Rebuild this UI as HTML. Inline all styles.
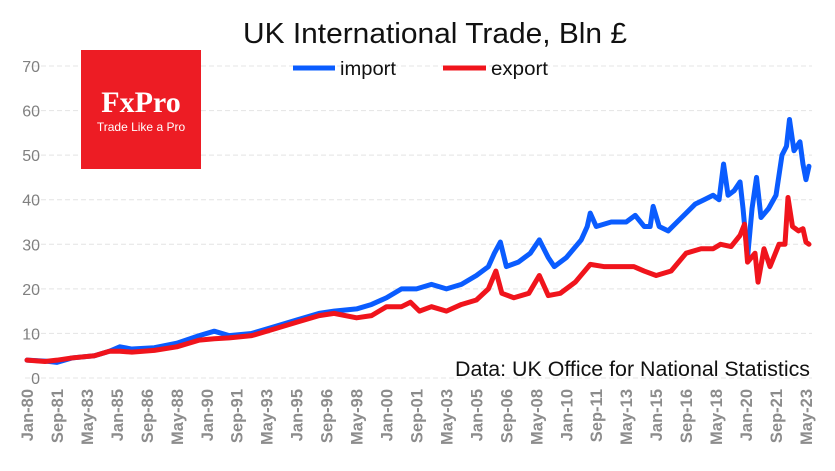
<!DOCTYPE html>
<html><head><meta charset="utf-8"><style>
body{margin:0;background:#fff;}
svg{display:block;font-family:"Liberation Sans",sans-serif;}
</style></head><body>
<svg id="chart" width="835" height="471" viewBox="0 0 835 471">
<text x="243" y="43" textLength="384" lengthAdjust="spacingAndGlyphs" font-size="29" fill="#111">UK International Trade, Bln £</text>
<g id="grid"></g><g id="yticks"></g><g id="xticks"></g><g id="series"></g>
<g>
<line x1="293" y1="68" x2="335" y2="68" stroke="#0a5cff" stroke-width="5"/>
<text x="340" y="75" textLength="56" lengthAdjust="spacingAndGlyphs" font-size="19" fill="#111">import</text>
<line x1="443" y1="68" x2="486" y2="68" stroke="#f0141c" stroke-width="5"/>
<text x="491" y="75" textLength="57" lengthAdjust="spacingAndGlyphs" font-size="19" fill="#111">export</text>
</g>
<g>
<rect x="81" y="50" width="120" height="119" fill="#ed1c24"/>
<text x="141" y="112" text-anchor="middle" font-family="Liberation Serif,serif" font-weight="bold" font-size="30" fill="#fff">FxPro</text>
<text x="141" y="131" text-anchor="middle" font-size="12" fill="#fff">Trade Like a Pro</text>
</g>
<text x="455" y="376" textLength="355" lengthAdjust="spacingAndGlyphs" font-size="21" fill="#111">Data: UK Office for National Statistics</text>
</svg>
<script>
const yTicks=[0,10,20,30,40,50,60,70];
const xLabels=["Jan-80","Sep-81","May-83","Jan-85","Sep-86","May-88","Jan-90","Sep-91","May-93","Jan-95","Sep-96","May-98","Jan-00","Sep-01","May-03","Jan-05","Sep-06","May-08","Jan-10","Sep-11","May-13","Jan-15","Sep-16","May-18","Jan-20","Sep-21","May-23"];
const importMonths=[0,12,20,30,45,55,62,70,85,100,115,125,135,150,165,180,195,205,220,230,240,250,260,270,280,290,300,308,312,316,320,328,336,342,348,352,360,370,374,376,380,390,400,406,412,416,418,422,428,434,440,446,452,458,462,465,468,472,476,478,481,484,487,490,495,500,504,507,509,512,516,518,520,522];
const importValues=[4,3.8,3.5,4.5,5,6,7,6.5,6.8,7.8,9.5,10.5,9.5,10,11.5,13,14.5,15,15.5,16.5,18,20,20,21,20,21,23,25,28,30.5,25,26,28,31,27,25,27,31,34,37,34,35,35,36.5,34,34,38.5,34,33,35,37,39,40,41,40,48,41,42,44,38,27,38,45,36,38,41,50,52,58,51,53,48,44.5,47.5];
const exportMonths=[0,12,20,30,45,55,62,70,85,100,115,125,135,150,165,180,195,205,220,230,240,250,256,262,270,280,290,300,308,313,317,325,335,342,348,356,366,376,385,395,405,412,420,430,440,450,458,463,470,476,479,481,486,488,492,496,502,506,508,511,515,518,520,522];
const exportValues=[4,3.7,4,4.5,5,6,6,5.8,6.2,7,8.5,8.8,9,9.5,11,12.5,14,14.5,13.5,14,16,16,17,15,16,15,16.5,17.5,20,24,19,18,19,23,18.5,19,21.5,25.5,25,25,25,24,23,24,28,29,29,30,29.5,32,34.5,26,28,21.5,29,25,30,30,40.5,34,33,33.5,30.5,30];
const NS="http://www.w3.org/2000/svg";
const y=v=>378-v*4.457;
const x=m=>27+m*1.498;
const mk=(t,a,p)=>{const e=document.createElementNS(NS,t);for(const k in a)e.setAttribute(k,a[k]);document.getElementById(p).appendChild(e);return e;};
yTicks.forEach(v=>{
  const g=mk('line',{x1:25,x2:812,y1:y(v),y2:y(v),stroke:'#e4e4e4','stroke-width':1,'stroke-dasharray':'5 3'},'grid');
  
  
  const t=mk('text',{x:40,y:y(v)+6,'text-anchor':'end','font-size':16,fill:'#808080'},'yticks');
  t.textContent=v;
  
  
});
xLabels.forEach((l,i)=>{
  const px=x(i*20)+6;
  const t=mk('text',{x:0,y:0,transform:`translate(${px},389) rotate(-90)`,'text-anchor':'end','font-size':16.5,'font-weight':'bold',fill:'#8c8c8c'},'xticks');
  t.textContent=l;
  
  
});
function line(ms,vs,c,name){
  const p=mk('polyline',{points:ms.map((m,i)=>x(m)+','+y(vs[i])).join(' '),fill:'none',stroke:c,'stroke-width':5,'stroke-linejoin':'round','stroke-linecap':'round'},'series');
  
  
}
line(importMonths,importValues,'#0a5cff','import-line');
line(exportMonths,exportValues,'#f0141c','export-line');
</script>
</body></html>
